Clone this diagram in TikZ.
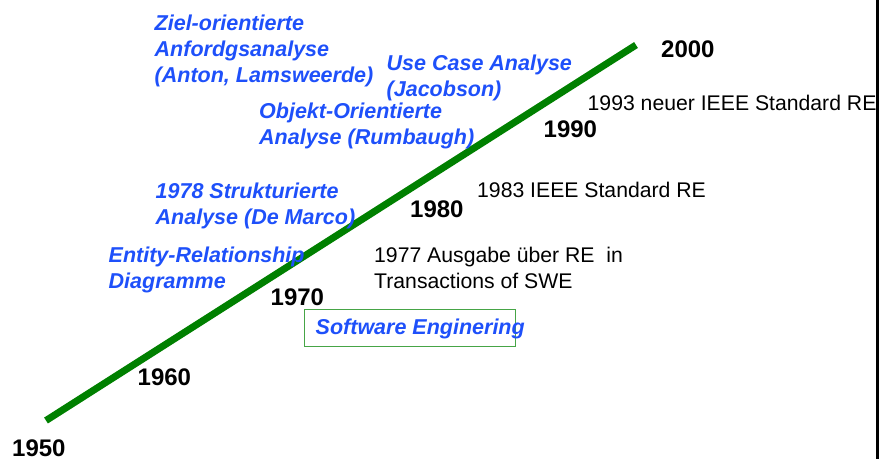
\documentclass[tikz,border=0pt]{standalone}
\usepackage{fontspec}
\setmainfont{Liberation Sans}
\definecolor{tlgreen}{RGB}{0,128,0}
\definecolor{boxgreen}{RGB}{70,165,70}
\definecolor{tlblue}{RGB}{30,80,250}
\begin{document}
\begin{tikzpicture}[x=1pt,y=-1pt,
  evt/.style={font=\fontsize{21.5}{26}\selectfont\bfseries\itshape, text=tlblue, align=left, inner sep=0pt, anchor=base west},
  note/.style={font=\fontsize{21.2}{25.6}\selectfont, text=black, align=left, inner sep=0pt, anchor=base west},
  year/.style={font=\fontsize{24}{28}\selectfont\bfseries, text=black, inner sep=0pt, anchor=base west}]
\useasboundingbox (0,0) rectangle (882,459);
% right border line
\coordinate (bt) at (877.5,0);
\coordinate (bb) at (877.5,459);
\draw[line width=2.5pt] (bt) -- (bb);
% timeline
\coordinate (t0) at (46,420.5);
\coordinate (t1) at (636,45);
\draw[tlgreen, line width=7pt] (t0) -- (t1);
% years
\node[year] (y2000) at (661,57.5) {2000};
\node[year] (y1990) at (543.5,137.5) {1990};
\node[year] (y1980) at (410,217) {1980};
\node[year] (y1970) at (270.5,305) {1970};
\node[year] (y1960) at (137.5,385) {1960};
\node[year] (y1950) at (12,456) {1950};
% blue events (anchor = baseline of last line)
\node[evt] (ziel) at (154.5,82) {Ziel-orientierte\\Anfordgsanalyse\\(Anton, Lamsweerde)};
\node[evt] (usecase) at (386.5,96) {Use Case Analyse\\(Jacobson)};
\node[evt] (oo) at (259,144) {Objekt-Orientierte\\Analyse (Rumbaugh)};
\node[evt] (sa) at (155.5,224) {1978 Strukturierte\\Analyse (De Marco)};
\node[evt] (er) at (108.5,288) {Entity-Relationship\\Diagramme};
% black notes
\node[note] (n1993) at (587.5,110) {1993 neuer IEEE Standard RE};
\node[note] (n1983) at (477,197.5) {1983 IEEE Standard RE};
\node[note] (n1977) at (374,288) {1977 Ausgabe über RE\ \ in\\Transactions of SWE};
% software engineering box
\node[draw=boxgreen, line width=1pt, minimum width=210.5pt, minimum height=37pt, inner sep=0pt, anchor=north west] (sebox) at (304,308.5) {};
\node[evt] (se) at (315.5,334.5) {Software Enginering};
\end{tikzpicture}
\end{document}
